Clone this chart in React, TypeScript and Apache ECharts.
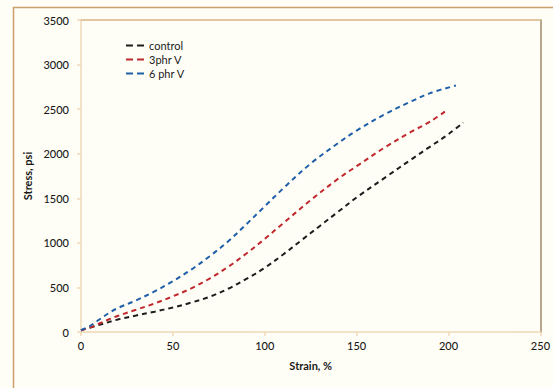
import React, { useEffect, useRef } from "react";
import * as echarts from "echarts";

const xTicks = [0, 50, 100, 150, 200, 250];
const yTicks = [0, 500, 1000, 1500, 2000, 2500, 3000, 3500];

const controlStrain = [0, 10, 20, 30, 40, 50, 60, 70, 80, 90, 100, 110, 120, 130, 140, 150, 166, 180, 190, 200, 208];
const controlStress = [20, 80, 140, 185, 228, 275, 330, 395, 485, 595, 720, 870, 1030, 1190, 1350, 1510, 1740, 1940, 2080, 2220, 2350];

const phr3Strain = [0, 5, 10, 15, 20, 30, 40, 50, 60, 70, 80, 90, 100, 110, 125, 140, 150, 166, 180, 190, 198];
const phr3Stress = [20, 50, 95, 140, 180, 250, 320, 400, 490, 600, 730, 880, 1045, 1220, 1480, 1720, 1860, 2080, 2250, 2360, 2472];

const phr6Strain = [0, 5, 10, 15, 20, 30, 40, 50, 60, 70, 80, 90, 100, 110, 125, 140, 150, 166, 180, 190, 204];
const phr6Stress = [20, 70, 140, 210, 268, 355, 455, 570, 700, 850, 1015, 1210, 1410, 1610, 1890, 2120, 2260, 2450, 2590, 2680, 2765];

const seriesNames = ["control", "3phr V", "6 phr V"];
const seriesColors = ["#1c1c1c", "#c0282d", "#1f5fa8"];

const zip = (xs: number[], ys: number[]) => xs.map((x, i) => [x, ys[i]]);

export default function App() {
  const ref = useRef<HTMLDivElement>(null);
  useEffect(() => {
    if (!ref.current) return;
    const chart = echarts.init(ref.current, null, { renderer: "svg" });
    const datasets = [
      zip(controlStrain, controlStress),
      zip(phr3Strain, phr3Stress),
      zip(phr6Strain, phr6Stress),
    ];
    const font = "Lato, 'Open Sans', sans-serif";
    const axisColor = "#f0d8b8";
    const labelStyle = { fontFamily: font, fontSize: 11, color: "#1a1a1a", fontWeight: 500 };
    chart.setOption({
      animation: false,
      backgroundColor: "#fffef6",
      textStyle: { fontFamily: font },
      grid: { left: 81, right: 12, top: 20, bottom: 56, show: false },
      legend: {
        orient: "vertical",
        left: 121,
        top: 35,
        itemWidth: 18,
        itemHeight: 2,
        itemGap: 3,
        icon: "path://M0,0h7v2h-7z M11,0h7v2h-7z",
        data: seriesNames,
        textStyle: { fontFamily: font, fontSize: 11, color: "#1a1a1a" },
      },
      xAxis: [
        {
          type: "value",
          min: 0,
          max: 250,
          interval: 50,
          name: "Strain, %",
          nameLocation: "middle",
          nameGap: 28,
          nameTextStyle: { fontFamily: font, fontSize: 11, fontWeight: "bold", color: "#1a1a1a" },
          axisLine: { show: true, lineStyle: { color: axisColor, width: 1.5 } },
          axisTick: { show: true, length: 4, lineStyle: { color: axisColor, width: 1.5 } },
          axisLabel: { ...labelStyle, margin: 8, formatter: (v: number) => String(v) },
          splitLine: { show: false },
        },
        {
          type: "value",
          position: "top",
          min: 0,
          max: 250,
          axisLine: { show: true, onZero: false, lineStyle: { color: "#d9b585", width: 1.5 } },
          axisTick: { show: false },
          axisLabel: { show: false },
          splitLine: { show: false },
        },
      ],
      yAxis: [
        {
          type: "value",
          min: 0,
          max: 3500,
          interval: 500,
          name: "Stress, psi",
          nameLocation: "middle",
          nameGap: 41,
          nameTextStyle: { fontFamily: font, fontSize: 11, fontWeight: "bold", color: "#1a1a1a" },
          axisLine: { show: true, lineStyle: { color: axisColor, width: 1.5 } },
          axisTick: { show: true, length: 4, lineStyle: { color: axisColor, width: 1.5 } },
          axisLabel: { ...labelStyle, margin: 12, formatter: (v: number) => String(v) },
          splitLine: { show: false },
        },
        {
          type: "value",
          position: "right",
          min: 0,
          max: 3500,
          axisLine: { show: true, onZero: false, lineStyle: { color: "#a08a66", width: 1.5 } },
          axisTick: { show: false },
          axisLabel: { show: false },
          splitLine: { show: false },
        },
      ],
      graphic: [
        {
          type: "line",
          shape: { x1: 13, y1: 7.5, x2: 553, y2: 7.5 },
          style: { stroke: "#c9a06c", lineWidth: 1.5 },
        },
        {
          type: "line",
          shape: { x1: 13.5, y1: 7, x2: 13.5, y2: 388 },
          style: { stroke: "#c9a06c", lineWidth: 1.5 },
        },
      ],
      series: datasets.map((d, i) => ({
        name: seriesNames[i],
        type: "line",
        xAxisIndex: 0,
        yAxisIndex: 0,
        data: d,
        smooth: 0.35,
        symbol: "none",
        showSymbol: false,
        itemStyle: { color: seriesColors[i] },
        lineStyle: { color: seriesColors[i], width: 2, type: [5, 4] },
      })),
    });
    return () => chart.dispose();
  }, []);
  return (
    <div
      ref={ref}
      style={{ position: "fixed", left: 0, top: 0, width: 553, height: 388 }}
    />
  );
}
